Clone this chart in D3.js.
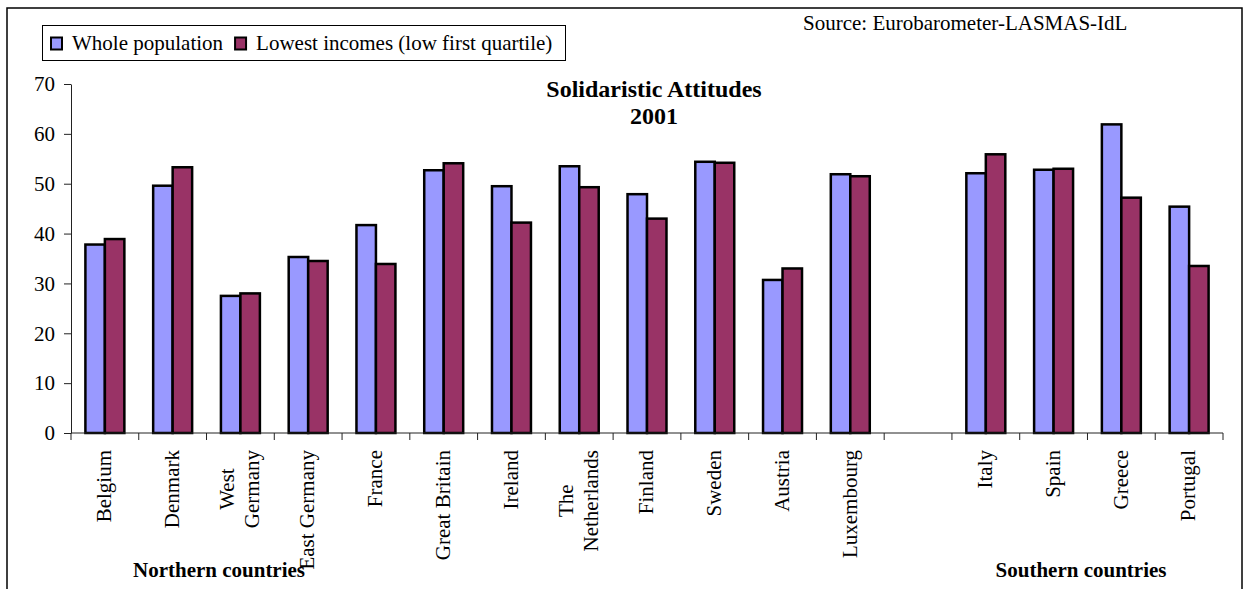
<!DOCTYPE html>
<html>
<head>
<meta charset="utf-8">
<script src="https://cdn.jsdelivr.net/npm/d3@7"></script>
<style>
  html, body { margin: 0; padding: 0; background: #fff; }
  #container { width: 1248px; height: 589px; }
  text { font-family: "Liberation Serif", "Times New Roman", Times, serif; fill: #000; }
</style>
</head>
<body>
<div id="container"></div>
<script>
const northern = ["Belgium", "Denmark", "West Germany", "East Germany", "France", "Great Britain",
  "Ireland", "The Netherlands", "Finland", "Sweden", "Austria", "Luxembourg"];
const southern = ["Italy", "Spain", "Greece", "Portugal"];
const series = ["Whole population", "Lowest incomes (low first quartile)"];

// northern then southern, same order as above
const wholePopulation = [37.8, 49.6, 27.5, 35.3, 41.7, 52.7, 49.5, 53.5, 47.9, 54.4, 30.7, 51.9,
  52.1, 52.8, 61.9, 45.4];
const lowestIncomes = [38.9, 53.3, 28.0, 34.5, 33.9, 54.1, 42.2, 49.3, 43.0, 54.2, 33.0, 51.5,
  55.9, 53.0, 47.2, 33.5];

const yTicks = [0, 10, 20, 30, 40, 50, 60, 70];
const wrapped = {"West Germany": ["West", "Germany"], "The Netherlands": ["The", "Netherlands"]};

function draw() {
  const W = 1248, H = 589;
  const margin = {top: 84, right: 25, bottom: 156, left: 71};
  const font = '"Liberation Serif", "Times New Roman", Times, serif';

  const svg = d3.select("#container").append("svg")
    .attr("width", W)
    .attr("height", H);

  // outer chart frame (bottom runs past the picture)
  svg.append("rect")
    .attr("x", 7).attr("y", 8)
    .attr("width", 1235).attr("height", 600)
    .attr("fill", "none")
    .attr("stroke", "#000")
    .attr("stroke-width", 1.5);

  const allCats = northern.concat(southern);
  const slots = northern.concat([""], southern);
  const rows = allCats.map((c, i) => ({cat: c, vals: [wholePopulation[i], lowestIncomes[i]]}));

  const x = d3.scaleBand()
    .domain(slots)
    .range([margin.left, W - margin.right])
    .paddingInner(0.425)
    .paddingOuter(0.2125);

  const xs = d3.scaleBand()
    .domain(series)
    .range([0, x.bandwidth()]);

  const y = d3.scaleLinear()
    .domain([0, 70])
    .range([H - margin.bottom, margin.top]);

  const color = d3.scaleOrdinal()
    .domain(series)
    .range(["#9999ff", "#993366"]);

  // bars
  const groups = svg.append("g").selectAll("g")
    .data(rows)
    .enter()
    .append("g")
    .attr("transform", d => `translate(${x(d.cat)},0)`);

  groups.selectAll("rect")
    .data(d => series.map((s, i) => ({s, v: d.vals[i]})))
    .enter()
    .append("rect")
    .attr("x", d => xs(d.s))
    .attr("width", xs.bandwidth())
    .attr("y", d => y(d.v))
    .attr("height", d => y(0) - y(d.v))
    .attr("fill", d => color(d.s))
    .attr("stroke", "#000")
    .attr("stroke-width", 2.5);

  // y axis
  const yAxis = svg.append("g")
    .attr("transform", `translate(${margin.left},0)`)
    .call(d3.axisLeft(y).tickValues(yTicks).tickSize(7).tickPadding(9).tickSizeOuter(0));
  yAxis.attr("font-family", null);
  yAxis.select(".domain").attr("stroke", "#222");
  yAxis.selectAll(".tick line").attr("stroke", "#222");
  yAxis.selectAll("text")
    .style("font-family", font)
    .style("font-size", "21px")
    .attr("fill", "#000");

  // x axis line + ticks on slot boundaries
  const edges = slots.map(s => x(s) - (x.step() - x.bandwidth()) / 2)
    .concat([x.range()[1]]);
  const xAxis = svg.append("g");
  xAxis.append("line")
    .attr("x1", x.range()[0]).attr("x2", x.range()[1])
    .attr("y1", y(0)).attr("y2", y(0))
    .attr("stroke", "#222");
  xAxis.selectAll(".xtick")
    .data(edges)
    .enter()
    .append("line")
    .attr("x1", d => d).attr("x2", d => d)
    .attr("y1", y(0)).attr("y2", y(0) + 7)
    .attr("stroke", "#222");

  // rotated category labels
  const lineH = 25;
  allCats.forEach(c => {
    const lines = wrapped[c] || [c];
    const cx = x(c) + x.bandwidth() / 2;
    const t = svg.append("text")
      .attr("text-anchor", "middle")
      .style("font-family", font)
      .style("font-size", "21px");
    lines.forEach((ln, i) => {
      t.append("tspan")
        .attr("x", 0)
        .attr("y", (i - (lines.length - 1) / 2) * lineH)
        .attr("dy", "0.3em")
        .text(ln);
    });
    let maxLen = 0;
    t.selectAll("tspan").each(function() { maxLen = Math.max(maxLen, this.getComputedTextLength()); });
    t.attr("transform", `translate(${cx},${y(0) + 17 + maxLen / 2}) rotate(-90)`);
  });

  // group labels
  svg.append("text")
    .attr("x", 219).attr("y", 577)
    .attr("text-anchor", "middle")
    .style("font-family", font)
    .style("font-size", "21px")
    .style("font-weight", "bold")
    .text("Northern countries");
  svg.append("text")
    .attr("x", 1081).attr("y", 577)
    .attr("text-anchor", "middle")
    .style("font-family", font)
    .style("font-size", "21px")
    .style("font-weight", "bold")
    .text("Southern countries");

  // title
  const title = svg.append("text")
    .attr("text-anchor", "middle")
    .style("font-family", font)
    .style("font-size", "24px")
    .style("font-weight", "bold");
  title.append("tspan").attr("x", 654).attr("y", 97).text("Solidaristic Attitudes");
  title.append("tspan").attr("x", 654).attr("y", 124).text("2001");

  // source
  svg.append("text")
    .attr("x", 803).attr("y", 30)
    .style("font-family", font)
    .style("font-size", "21px")
    .text("Source: Eurobarometer-LASMAS-IdL");

  // legend
  const legend = svg.append("g");
  legend.append("rect")
    .attr("x", 42.5).attr("y", 25.5)
    .attr("width", 523).attr("height", 35)
    .attr("fill", "#fff")
    .attr("stroke", "#000");
  let lx = 51;
  series.forEach(s => {
    legend.append("rect")
      .attr("x", lx).attr("y", 37.5)
      .attr("width", 11).attr("height", 12)
      .attr("fill", color(s))
      .attr("stroke", "#000")
      .attr("stroke-width", 2);
    const lt = legend.append("text")
      .attr("x", lx + 21).attr("y", 50)
      .style("font-family", font)
      .style("font-size", "21px")
      .text(s);
    lx += 21 + lt.node().getComputedTextLength() + 12;
  });
}

draw();
</script>
</body>
</html>
